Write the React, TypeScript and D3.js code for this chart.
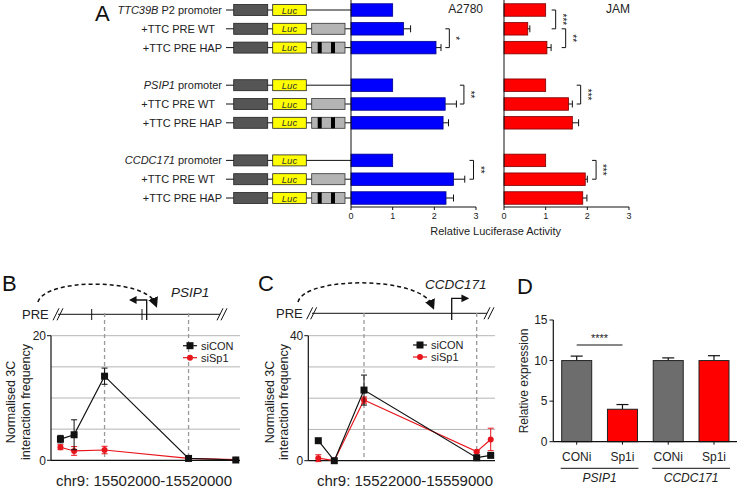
import React from "react";
import * as d3 from "d3";

// ---------- Panel A data ----------
const rowLabelItalic = ["TTC39B", "", "", "PSIP1", "", "", "CCDC171", "", ""];
const rowLabelPlain = [" P2 promoter", "+TTC PRE WT", "+TTC PRE HAP", " promoter", "+TTC PRE WT", "+TTC PRE HAP", " promoter", "+TTC PRE WT", "+TTC PRE HAP"];
const rowTypes = ["promoter", "WT", "HAP", "promoter", "WT", "HAP", "promoter", "WT", "HAP"];
const rowSlots = [0, 1, 2, 4, 5, 6, 8, 9, 10];
const a2780Values = [1.0, 1.26, 2.04, 1.0, 2.26, 2.21, 1.0, 2.46, 2.28];
const a2780Errors = [0, 0.17, 0.12, 0, 0.27, 0.13, 0, 0.27, 0.18];
const jamValues = [1.0, 0.57, 1.03, 1.0, 1.55, 1.64, 1.0, 1.95, 1.89];
const jamErrors = [0, 0.05, 0.1, 0, 0.09, 0.15, 0, 0.05, 0.1];
const luciferaseTicks = [0, 1, 2, 3];
const a2780Sig = [
  { r1: 1, r2: 2, x: 2.36, label: "*" },
  { r1: 3, r2: 4, x: 2.71, label: "**" },
  { r1: 6, r2: 7, x: 2.94, label: "**" },
];
const jamSig = [
  { r1: 0, r2: 1, x: 1.24, label: "***" },
  { r1: 1, r2: 2, x: 1.48, label: "**" },
  { r1: 3, r2: 4, x: 1.84, label: "***" },
  { r1: 6, r2: 7, x: 2.21, label: "***" },
];

// ---------- Panel B data ----------
const bPositions = [15502900, 15504200, 15507100, 15515100, 15519600];
const bSiCON = [3.4, 4.1, 13.5, 0.3, 0.05];
const bSiCONErr = [0.6, 2.4, 1.3, 0.2, 0.1];
const bSiSp1 = [2.1, 1.5, 1.65, 0.3, 0.1];
const bSiSp1Err = [0.4, 0.7, 0.6, 0.2, 0.1];
const bGrid = [5, 10, 15, 20];
const bTickLabels = [0, 20];

// ---------- Panel C data ----------
const cPositions = [15523980, 15527150, 15533040, 15555370, 15558150];
const cSiCON = [6.4, 0, 22.6, 0.96, 1.7];
const cSiCONErr = [0, 0, 4.8, 0.3, 0.3];
const cSiSp1 = [0.8, 0, 19.4, 2.9, 6.8];
const cSiSp1Err = [1.1, 0, 1.0, 0.3, 3.6];
const cGrid = [10, 20, 30, 40];
const cTickLabels = [0, 40];

// ---------- Panel D data ----------
const dCategories = ["CONi", "Sp1i", "CONi", "Sp1i"];
const dGenes = ["PSIP1", "CCDC171"];
const dValues = [10, 4.0, 10, 10];
const dErrors = [0.55, 0.58, 0.33, 0.6];
const dTicks = [0, 5, 10, 15];

const FONT = "'Liberation Sans', Arial, Helvetica, sans-serif";
const BLACK = "#111";
const RED = "#e8141b";

function HBars({ x, values, errors, fill, stroke, yRow, sig }) {
  const bh = 12.5;
  return (
    <g>
      {values.map((v, i) => {
        const yc = yRow(rowSlots[i]);
        return (
          <g key={i}>
            <rect x={x(0)} y={yc - bh / 2} width={x(v) - x(0)} height={bh} fill={fill} stroke={stroke} strokeWidth={0.8} />
            {errors[i] > 0 && (
              <g stroke={BLACK} strokeWidth={1}>
                <line x1={x(v)} x2={x(v + errors[i])} y1={yc} y2={yc} />
                <line x1={x(v + errors[i])} x2={x(v + errors[i])} y1={yc - 3.5} y2={yc + 3.5} />
              </g>
            )}
          </g>
        );
      })}
      <line x1={x(0)} x2={x(0)} y1={0} y2={207} stroke={BLACK} strokeWidth={1} />
      <line x1={x(0)} x2={x(3)} y1={207} y2={207} stroke={BLACK} strokeWidth={1} />
      {luciferaseTicks.map((t) => (
        <g key={t}>
          <line x1={x(t)} x2={x(t)} y1={207} y2={210} stroke={BLACK} />
          <text x={x(t)} y={219} fontSize={9} textAnchor="middle" fill="#222">{t}</text>
        </g>
      ))}
      {sig.map((s, i) => {
        const y1 = yRow(rowSlots[s.r1]);
        const y2 = yRow(rowSlots[s.r2]);
        const xx = x(s.x);
        return (
          <g key={i}>
            <path d={`M${xx - 4},${y1}H${xx}V${y2}H${xx - 4}`} fill="none" stroke={BLACK} strokeWidth={1} />
            <text transform={`translate(${xx + 3},${(y1 + y2) / 2}) rotate(90)`} fontSize={10} textAnchor="middle" fill={BLACK}>{s.label}</text>
          </g>
        );
      })}
    </g>
  );
}

function Construct({ y, type }) {
  const h = 11;
  return (
    <g>
      <line x1={226} x2={351} y1={y} y2={y} stroke={BLACK} strokeWidth={1} />
      <rect x={233.7} y={y - h / 2} width={34} height={h} fill="#555" stroke="#222" strokeWidth={0.8} />
      <rect x={272.7} y={y - h / 2} width={33.6} height={h} fill="#ffff00" stroke="#222" strokeWidth={0.8} />
      <text x={289.5} y={y + 3.5} fontSize={9.5} fontStyle="italic" textAnchor="middle" fill="#333">Luc</text>
      {type !== "promoter" && (
        <rect x={311.7} y={y - h / 2} width={33.3} height={h} fill="#b4b4b4" stroke="#333" strokeWidth={0.8} />
      )}
      {type === "HAP" && (
        <g fill="#000">
          <rect x={317.7} y={y - h / 2} width={4} height={h} />
          <rect x={331} y={y - h / 2} width={4} height={h} />
        </g>
      )}
    </g>
  );
}

function ThreeC({ x, y, positions, con, conErr, sp, spErr, grid, tickLabels, xLeft, xRight, dashIdx, legendX, legendY }) {
  const line = d3.line().x((d) => x(d[0])).y((d) => y(d[1]));
  const conPts = positions.map((p, i) => [p, con[i]]);
  const spPts = positions.map((p, i) => [p, sp[i]]);
  return (
    <g>
      {grid.map((g) => (
        <line key={g} x1={xLeft} x2={xRight} y1={y(g)} y2={y(g)} stroke="#b5b5b5" strokeWidth={1} />
      ))}
      {dashIdx.map((i) => (
        <line key={i} x1={x(positions[i])} x2={x(positions[i])} y1={313} y2={y(0)} stroke="#999" strokeWidth={1.3} strokeDasharray="4,3" />
      ))}
      <line x1={xLeft} x2={xLeft} y1={y(grid[grid.length - 1])} y2={y(0)} stroke={BLACK} strokeWidth={1.2} />
      <line x1={xLeft} x2={xRight} y1={y(0)} y2={y(0)} stroke={BLACK} strokeWidth={1.2} />
      {tickLabels.map((t) => (
        <g key={t}>
          <line x1={xLeft - 4} x2={xLeft} y1={y(t)} y2={y(t)} stroke={BLACK} />
          <text x={xLeft - 5} y={y(t) + 4.3} fontSize={12} textAnchor="end" fill="#222">{t}</text>
        </g>
      ))}
      {/* siSp1 */}
      <path d={line(spPts)} fill="none" stroke={RED} strokeWidth={1.2} />
      {spPts.map((d, i) => (
        <g key={i}>
          {spErr[i] > 0 && (
            <g stroke={RED} strokeWidth={1}>
              <line x1={x(d[0])} x2={x(d[0])} y1={y(d[1] - spErr[i])} y2={y(d[1] + spErr[i])} />
              <line x1={x(d[0]) - 3} x2={x(d[0]) + 3} y1={y(d[1] - spErr[i])} y2={y(d[1] - spErr[i])} />
              <line x1={x(d[0]) - 3} x2={x(d[0]) + 3} y1={y(d[1] + spErr[i])} y2={y(d[1] + spErr[i])} />
            </g>
          )}
          <circle cx={x(d[0])} cy={y(d[1])} r={3} fill={RED} />
        </g>
      ))}
      {/* siCON */}
      <path d={line(conPts)} fill="none" stroke={BLACK} strokeWidth={1.2} />
      {conPts.map((d, i) => (
        <g key={i}>
          {conErr[i] > 0 && (
            <g stroke={BLACK} strokeWidth={1}>
              <line x1={x(d[0])} x2={x(d[0])} y1={y(d[1] - conErr[i])} y2={y(d[1] + conErr[i])} />
              <line x1={x(d[0]) - 3} x2={x(d[0]) + 3} y1={y(d[1] - conErr[i])} y2={y(d[1] - conErr[i])} />
              <line x1={x(d[0]) - 3} x2={x(d[0]) + 3} y1={y(d[1] + conErr[i])} y2={y(d[1] + conErr[i])} />
            </g>
          )}
          <rect x={x(d[0]) - 3.5} y={y(d[1]) - 3.5} width={7} height={7} fill={BLACK} />
        </g>
      ))}
      {/* legend */}
      <line x1={legendX - 7} x2={legendX + 7} y1={legendY} y2={legendY} stroke={BLACK} strokeWidth={1.2} />
      <rect x={legendX - 3.5} y={legendY - 3.5} width={7} height={7} fill={BLACK} />
      <text x={legendX + 11} y={legendY + 4} fontSize={11} fill="#222">siCON</text>
      <line x1={legendX - 7} x2={legendX + 7} y1={legendY + 12} y2={legendY + 12} stroke={RED} strokeWidth={1.2} />
      <circle cx={legendX} cy={legendY + 12} r={3} fill={RED} />
      <text x={legendX + 11} y={legendY + 16} fontSize={11} fill="#222">siSp1</text>
    </g>
  );
}

function Slashes({ x, y }) {
  return (
    <g stroke={BLACK} strokeWidth={1}>
      <line x1={x - 5} x2={x + 1} y1={y + 6} y2={y - 6} />
      <line x1={x - 1} x2={x + 5} y1={y + 6} y2={y - 6} />
    </g>
  );
}

export default function App() {
  const yRow = d3.scaleLinear().domain([0, 10]).range([10, 198]);
  const xBlue = d3.scaleLinear().domain([0, 3]).range([351, 476]);
  const xRed = d3.scaleLinear().domain([0, 3]).range([504, 629]);

  const xB = d3.scaleLinear().domain([15502000, 15520000]).range([51, 240]);
  const yB = d3.scaleLinear().domain([0, 20]).range([460.3, 335.7]);
  const xC = d3.scaleLinear().domain([15522000, 15559000]).range([308.3, 495]);
  const yC = d3.scaleLinear().domain([0, 40]).range([460.7, 335.7]);

  const xD = d3.scaleLinear().domain([0, 3]).range([576.7, 714]);
  const yD = d3.scaleLinear().domain([0, 15]).range([441.7, 320]);
  const dBarW = 30;

  return (
    <svg width={737} height={487} style={{ position: "absolute", left: 0, top: 0, background: "#fff" }} fontFamily={FONT}>
      <defs>
        <marker id="arrDown" viewBox="0 0 10 10" refX="5" refY="5" markerWidth="7" markerHeight="7" orient="auto">
          <path d="M0,0L10,5L0,10z" fill={BLACK} />
        </marker>
        <marker id="arrTss" viewBox="0 0 10 10" refX="2" refY="5" markerWidth="6" markerHeight="6" orient="auto">
          <path d="M0,0L10,5L0,10z" fill={BLACK} />
        </marker>
      </defs>

      {/* ---------- Panel A ---------- */}
      <text x={95} y={21} fontSize={22} fill={BLACK}>A</text>
      {rowTypes.map((t, i) => {
        const yc = yRow(rowSlots[i]);
        return (
          <g key={i}>
            <Construct y={yc} type={t} />
            <text x={t === "WT" ? 215 : 222} y={yc + 4} fontSize={11} textAnchor="end" fill="#222" style={{ whiteSpace: "pre" }}>
              {rowLabelItalic[i] && <tspan fontStyle="italic">{rowLabelItalic[i]}</tspan>}
              <tspan>{rowLabelPlain[i]}</tspan>
            </text>
          </g>
        );
      })}
      <HBars x={xBlue} values={a2780Values} errors={a2780Errors} fill="#0000ff" stroke="#00008b" yRow={yRow} sig={a2780Sig} />
      <HBars x={xRed} values={jamValues} errors={jamErrors} fill="#ff0000" stroke="#7a0000" yRow={yRow} sig={jamSig} />
      <text x={465.7} y={13} fontSize={12} textAnchor="middle" fill="#222">A2780</text>
      <text x={618} y={13} fontSize={12} textAnchor="middle" fill="#222">JAM</text>
      <text x={495.7} y={235} fontSize={11} textAnchor="middle" fill="#222">Relative Luciferase Activity</text>

      {/* ---------- Panel B ---------- */}
      <text x={2} y={291} fontSize={22} fill={BLACK}>B</text>
      <path d="M38,302 C45,278 145,278 155,303" fill="none" stroke={BLACK} strokeWidth={1.5} strokeDasharray="4,3" markerEnd="url(#arrDown)" />
      <text x={171} y={297} fontSize={13.5} fontStyle="italic" fill="#222">PSIP1</text>
      <path d="M146.7,320V300H135" fill="none" stroke={BLACK} strokeWidth={1.3} markerEnd="url(#arrTss)" />
      <text x={22} y={318.5} fontSize={13} fill="#222">PRE</text>
      <line x1={58} x2={220} y1={314.3} y2={314.3} stroke={BLACK} strokeWidth={1} />
      <Slashes x={58} y={314.3} />
      <Slashes x={222} y={314.3} />
      <line x1={91.7} x2={91.7} y1={309} y2={320} stroke={BLACK} />
      <line x1={142} x2={142} y1={309} y2={320} stroke={BLACK} />
      <ThreeC x={xB} y={yB} positions={bPositions} con={bSiCON} conErr={bSiCONErr} sp={bSiSp1} spErr={bSiSp1Err}
        grid={bGrid} tickLabels={bTickLabels} xLeft={51} xRight={240} dashIdx={[2, 3]} legendX={190} legendY={345.7} />
      <text transform="translate(15,402) rotate(-90)" fontSize={12.5} textAnchor="middle" fill="#222">Normalised 3C</text>
      <text transform="translate(30,402) rotate(-90)" fontSize={12.5} textAnchor="middle" fill="#222">interaction frequency</text>
      <text x={144} y={485.5} fontSize={15} textAnchor="middle" fill="#222">chr9: 15502000-15520000</text>

      {/* ---------- Panel C ---------- */}
      <text x={258} y={291} fontSize={22} fill={BLACK}>C</text>
      <path d="M298,302 C305,276 420,276 432,305" fill="none" stroke={BLACK} strokeWidth={1.5} strokeDasharray="4,3" markerEnd="url(#arrDown)" />
      <text x={425} y={289} fontSize={13.5} fontStyle="italic" fill="#222">CCDC171</text>
      <path d="M451.7,320V298.3H463" fill="none" stroke={BLACK} strokeWidth={1.3} markerEnd="url(#arrTss)" />
      <text x={276} y={317.5} fontSize={13} fill="#222">PRE</text>
      <line x1={312} x2={487} y1={313.3} y2={313.3} stroke={BLACK} strokeWidth={1} />
      <Slashes x={311.7} y={313.3} />
      <Slashes x={489} y={313.3} />
      <ThreeC x={xC} y={yC} positions={cPositions} con={cSiCON} conErr={cSiCONErr} sp={cSiSp1} spErr={cSiSp1Err}
        grid={cGrid} tickLabels={cTickLabels} xLeft={308.3} xRight={495} dashIdx={[2, 3]} legendX={420} legendY={345} />
      <text transform="translate(274,402) rotate(-90)" fontSize={12.5} textAnchor="middle" fill="#222">Normalised 3C</text>
      <text transform="translate(288,402) rotate(-90)" fontSize={12.5} textAnchor="middle" fill="#222">interaction frequency</text>
      <text x={405} y={485.5} fontSize={15} textAnchor="middle" fill="#222">chr9: 15522000-15559000</text>

      {/* ---------- Panel D ---------- */}
      <text x={517} y={294} fontSize={22} fill={BLACK}>D</text>
      {dValues.map((v, i) => (
        <g key={i}>
          <line x1={xD(i)} x2={xD(i)} y1={yD(v)} y2={yD(v + dErrors[i])} stroke={BLACK} strokeWidth={1.2} />
          <line x1={xD(i) - 6} x2={xD(i) + 6} y1={yD(v + dErrors[i])} y2={yD(v + dErrors[i])} stroke={BLACK} strokeWidth={1.2} />
          <rect x={xD(i) - dBarW / 2} y={yD(v)} width={dBarW} height={yD(0) - yD(v)} fill={i % 2 === 0 ? "#6d6d6d" : "#ff0000"} stroke="#222" strokeWidth={1} />
          <line x1={xD(i)} x2={xD(i)} y1={yD(0)} y2={yD(0) + 3} stroke={BLACK} />
          <text x={xD(i)} y={461} fontSize={12} textAnchor="middle" fill="#222">{dCategories[i]}</text>
        </g>
      ))}
      <line x1={553.3} x2={553.3} y1={yD(15)} y2={yD(0)} stroke={BLACK} strokeWidth={1.2} />
      <line x1={553.3} x2={737} y1={yD(0)} y2={yD(0)} stroke={BLACK} strokeWidth={1.2} />
      {dTicks.map((t) => (
        <g key={t}>
          <line x1={549.5} x2={553.3} y1={yD(t)} y2={yD(t)} stroke={BLACK} />
          <text x={547.5} y={yD(t) + 4} fontSize={12} textAnchor="end" fill="#222">{t}</text>
        </g>
      ))}
      <text transform="translate(528,381) rotate(-90)" fontSize={12} textAnchor="middle" fill="#222">Relative expression</text>
      <line x1={xD(0)} x2={xD(1)} y1={345} y2={345} stroke={BLACK} strokeWidth={1.2} />
      <text x={(xD(0) + xD(1)) / 2} y={342} fontSize={11} textAnchor="middle" fill="#222">****</text>
      {dGenes.map((g, j) => (
        <g key={g}>
          <line x1={xD(2 * j) - 16} x2={xD(2 * j + 1) + 16} y1={468.3} y2={468.3} stroke={BLACK} />
          <text x={(xD(2 * j) + xD(2 * j + 1)) / 2} y={482} fontSize={12} fontStyle="italic" textAnchor="middle" fill="#222">{g}</text>
        </g>
      ))}
    </svg>
  );
}
